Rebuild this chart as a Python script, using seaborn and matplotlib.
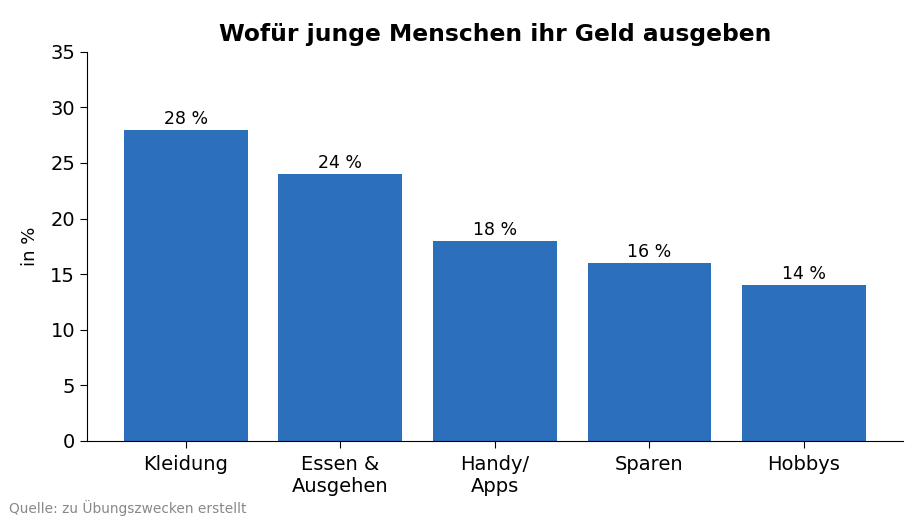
import pandas as pd
import matplotlib
matplotlib.use("Agg")
import matplotlib.pyplot as plt
import seaborn as sns

# -----------------------------
# Data
# -----------------------------
kategorien = ["Kleidung", "Essen &\nAusgehen", "Handy/\nApps", "Sparen", "Hobbys"]
anteile = [28, 24, 18, 16, 14]

df = pd.DataFrame({"Kategorie": kategorien, "Anteil": anteile})

# -----------------------------
# Plot
# -----------------------------
sns.set_style("ticks")
plt.rcParams["font.family"] = ["DejaVu Sans"]
plt.rcParams.update({
    "text.color": "black",
    "axes.labelcolor": "black",
    "axes.edgecolor": "black",
    "xtick.color": "black",
    "ytick.color": "black",
})

fig = plt.figure(figsize=(9.24, 5.18), dpi=100)
ax = fig.add_axes([0.094, 0.149, 0.883, 0.751])

sns.barplot(
    data=df,
    x="Kategorie",
    y="Anteil",
    color="#2c6fbb",
    saturation=1,
    width=0.8,
    linewidth=0,
    ax=ax
)

for cont in ax.containers:
    ax.bar_label(cont, labels=[f"{v} %" for v in anteile], padding=1.5, fontsize=12.5)

ax.set_xlim(-0.64, 4.64)
ax.set_ylim(0, 35)
ax.set_yticks(range(0, 36, 5))
ax.set_xlabel("")
ax.set_ylabel("in %", fontsize=13, labelpad=8)
ax.tick_params(axis="both", labelsize=14, length=5)
ax.tick_params(axis="x", pad=5.5)
ax.set_title("Wofür junge Menschen ihr Geld ausgeben", fontsize=16.8, fontweight="bold", pad=8)
sns.despine(ax=ax)

fig.text(0.01, 0.01, "Quelle: zu Übungszwecken erstellt", fontsize=9.9, color="#888888")

fig.savefig("out.png", dpi=100)
